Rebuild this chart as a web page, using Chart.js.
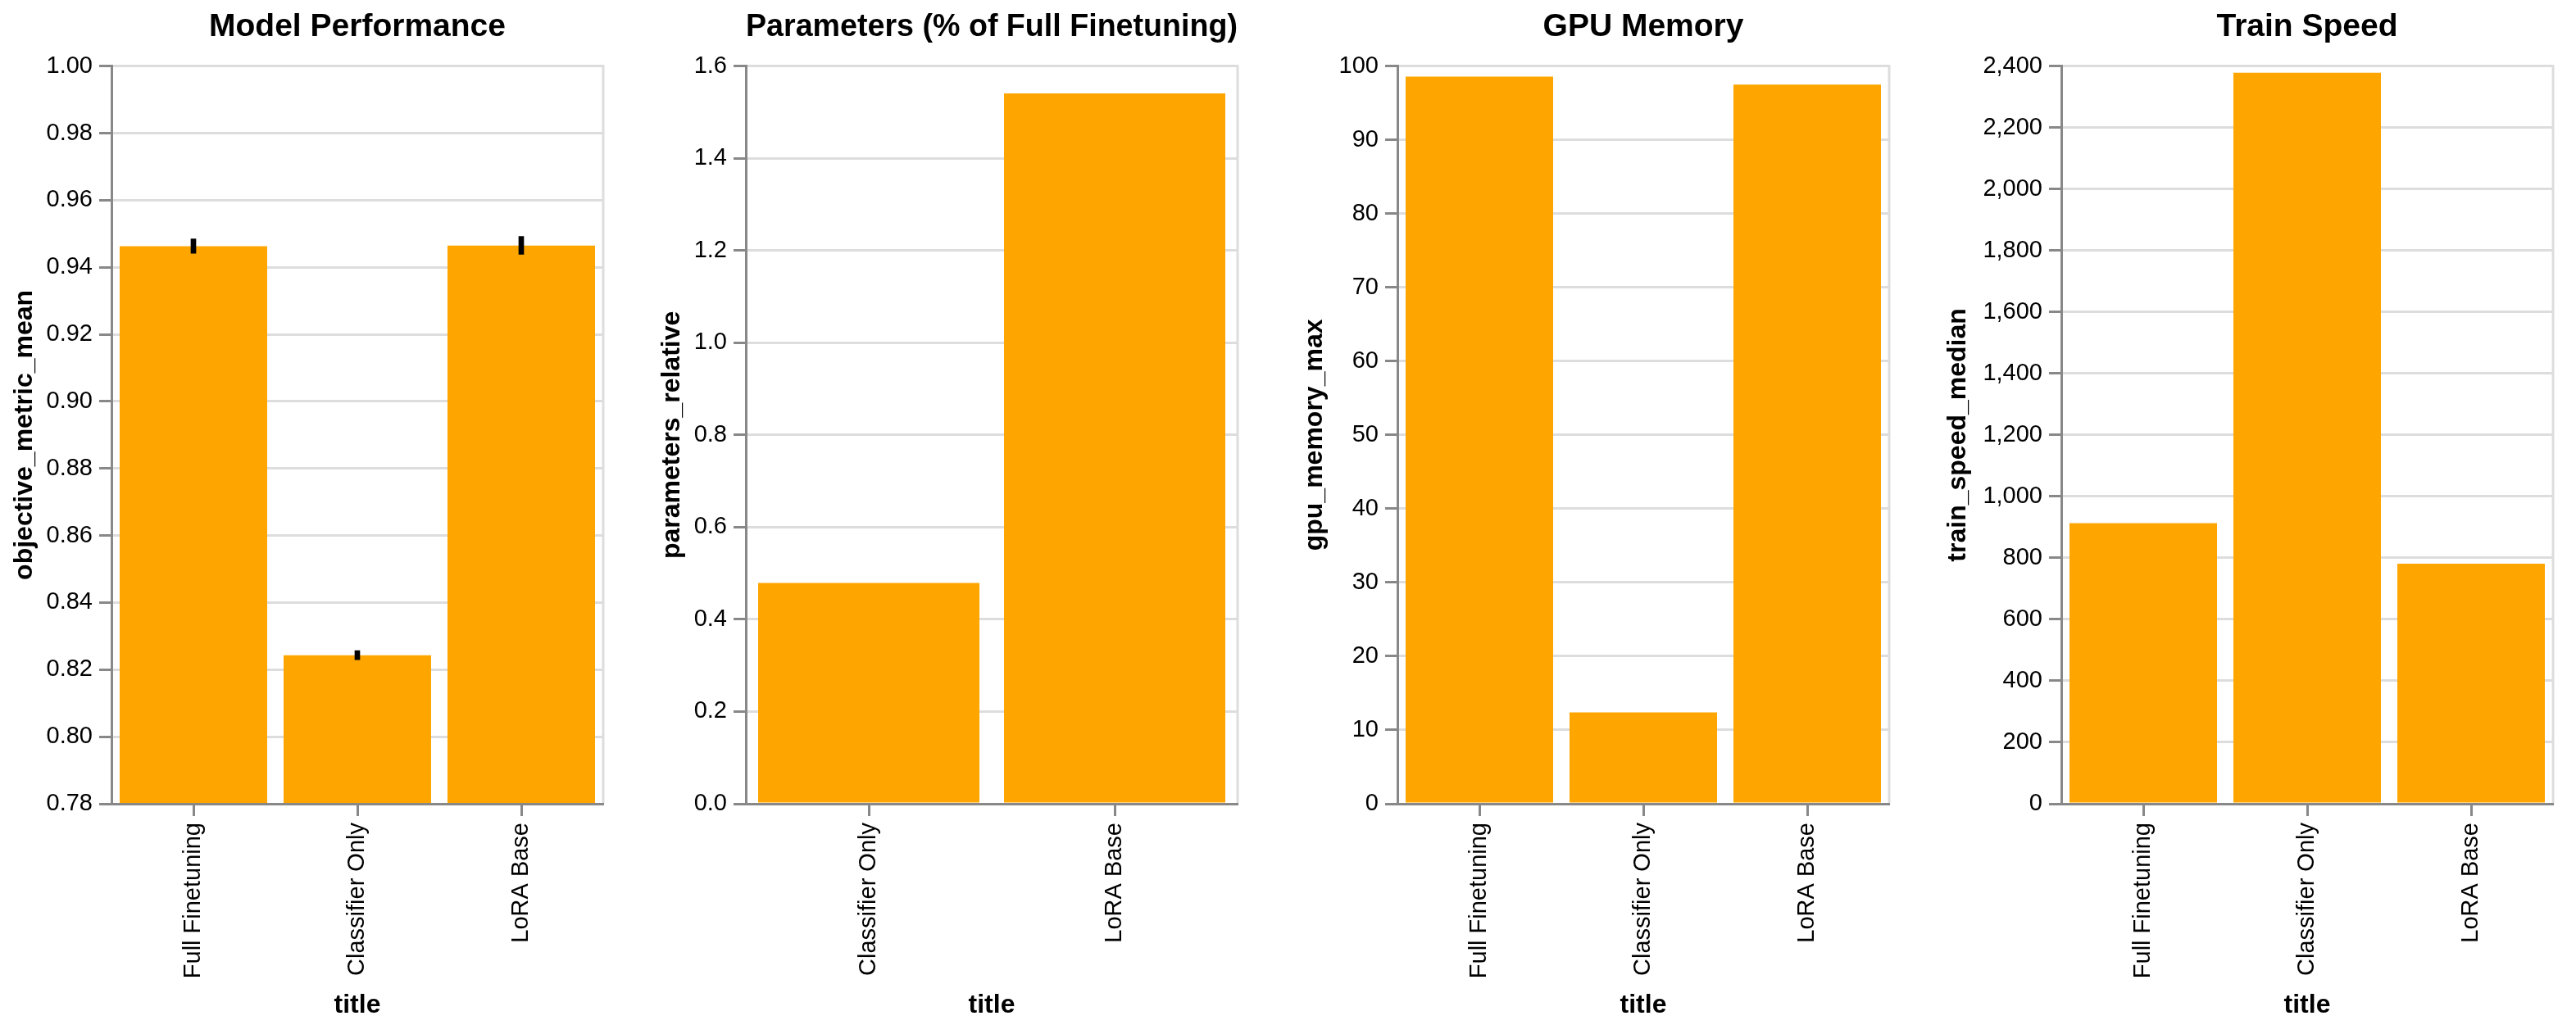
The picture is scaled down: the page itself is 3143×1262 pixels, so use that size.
<!DOCTYPE html>
<html>
<head>
<meta charset="utf-8">
<script src="https://cdn.jsdelivr.net/npm/chart.js@4.4.0/dist/chart.umd.min.js"></script>
<style>
  html, body { margin: 0; padding: 0; background: #fff; }
  #wrap { position: relative; width: 3143px; height: 1262px; overflow: hidden; }
  canvas { position: absolute; top: 0; }
</style>
</head>
<body>
<div id="wrap">
  <canvas id="perfChart"></canvas>
  <canvas id="paramChart"></canvas>
  <canvas id="gpuChart"></canvas>
  <canvas id="speedChart"></canvas>
</div>
<script>
        // --- DATA ---
        const methodLabels = ['Full Finetuning', 'Classifier Only', 'LoRA Base'];
        const paramLabels = ['Classifier Only', 'LoRA Base'];

        const perfMean = [0.9463, 0.8243, 0.9465];
        const perfLow = [0.9442, 0.8230, 0.9439];
        const perfHigh = [0.9485, 0.8257, 0.9492];
        const paramValues = [0.479, 1.541];
        const gpuValues = [98.6, 12.4, 97.5];
        const speedValues = [913, 2379, 781];

        const perfTicks = [0.78, 0.80, 0.82, 0.84, 0.86, 0.88, 0.90, 0.92, 0.94, 0.96, 0.98, 1.00];
        const paramTicks = [0, 0.2, 0.4, 0.6, 0.8, 1.0, 1.2, 1.4, 1.6];
        const gpuTicks = [0, 10, 20, 30, 40, 50, 60, 70, 80, 90, 100];
        const speedTicks = [0, 200, 400, 600, 800, 1000, 1200, 1400, 1600, 1800, 2000, 2200, 2400];

        // --- LAYOUT (pixel boxes of each panel) ---
        const CANVAS_H = 1262;
        const PLOT_BOTTOM = 981;
        const perfBox = { left: 0, plotLeft: 136, plotRight: 736, titleMid: 30 };
        const paramBox = { left: 780, plotLeft: 910, plotRight: 1510, titleMid: 820 };
        const gpuBox = { left: 1570, plotLeft: 1705, plotRight: 2305, titleMid: 1604.5 };
        const speedBox = { left: 2360, plotLeft: 2515, plotRight: 3115, titleMid: 2389.5 };

        const barColor = '#ffa500';
        const font = '"Liberation Sans", Arial, Helvetica, sans-serif';

        Chart.defaults.font.family = font;
        Chart.defaults.color = '#000';

        // right-hand frame line of the plot area
        const viewFrame = {
            id: 'viewFrame',
            beforeDatasetsDraw(chart) {
                const { ctx, chartArea: a } = chart;
                ctx.save();
                ctx.strokeStyle = '#ddd';
                ctx.lineWidth = 3;
                ctx.beginPath();
                ctx.moveTo(a.right, a.top - 1.5);
                ctx.lineTo(a.right, a.bottom);
                ctx.stroke();
                ctx.restore();
            }
        };

        function buildChart(canvasId, box, chartTitle, axisTitle, labels, datasets, ticks, fmt) {
            const canvas = document.getElementById(canvasId);
            const width = box.plotRight + 20 - box.left;
            canvas.width = width;
            canvas.height = CANVAS_H;
            canvas.style.left = box.left + 'px';
            canvas.style.width = width + 'px';
            canvas.style.height = CANVAS_H + 'px';

            return new Chart(canvas, {
                type: 'bar',
                data: { labels, datasets },
                options: {
                    responsive: false,
                    animation: false,
                    layout: { padding: { left: 0, right: 20, top: 0, bottom: 0 } },
                    plugins: {
                        legend: { display: false },
                        tooltip: { enabled: false },
                        title: {
                            display: true, text: chartTitle, fullSize: false, color: '#000',
                            font: { size: 39, weight: 'bold' }, padding: { top: 10, bottom: 24 }
                        }
                    },
                    scales: {
                        x: {
                            offset: true,
                            grid: { offset: false, drawOnChartArea: false, tickLength: 15, tickColor: '#888', tickWidth: 3 },
                            border: { color: '#888', width: 3, z: 1 },
                            ticks: { color: '#000', font: { size: 29 }, minRotation: 90, maxRotation: 90, autoSkip: false, padding: 8 },
                            title: { display: true, text: 'title', color: '#000', font: { size: 32, weight: 'bold' }, padding: { top: 0, bottom: 16 } },
                            afterFit: (s) => { s.height = CANVAS_H - PLOT_BOTTOM; }
                        },
                        y: {
                            min: ticks[0],
                            max: ticks[ticks.length - 1],
                            grid: { color: '#ddd', lineWidth: 3, tickLength: 15, tickColor: '#888', tickWidth: 3 },
                            border: { color: '#888', width: 3 },
                            ticks: { color: '#000', font: { size: 29 }, padding: 8, autoSkip: false, callback: fmt },
                            afterBuildTicks: (s) => { s.ticks = ticks.map(v => ({ value: v })); },
                            title: {
                                display: true, text: axisTitle, color: '#000', font: { size: 32, weight: 'bold' },
                                padding: { top: box.titleMid - box.left - 19.2, bottom: 0 }
                            },
                            afterFit: (s) => { s.width = box.plotLeft - box.left; }
                        }
                    }
                },
                plugins: [viewFrame]
            });
        }

        const bars = (values) => ({
            data: values, backgroundColor: barColor, categoryPercentage: 0.9, barPercentage: 1,
            grouped: false, order: 1
        });

        // --- CHARTS ---
        buildChart('perfChart', perfBox, 'Model Performance', 'objective_metric_mean', methodLabels, [
            {
                data: perfLow.map((lo, i) => [lo, perfHigh[i]]), backgroundColor: '#000',
                barThickness: 6, grouped: false, order: 0
            },
            bars(perfMean)
        ], perfTicks, (v) => v.toFixed(2));

        buildChart('paramChart', paramBox, 'Parameters (% of Full Finetuning)', 'parameters_relative', paramLabels,
            [bars(paramValues)], paramTicks, (v) => v.toFixed(1));

        buildChart('gpuChart', gpuBox, 'GPU Memory', 'gpu_memory_max', methodLabels,
            [bars(gpuValues)], gpuTicks, (v) => String(v));

        buildChart('speedChart', speedBox, 'Train Speed', 'train_speed_median', methodLabels,
            [bars(speedValues)], speedTicks, (v) => v.toLocaleString('en-US'));
</script>
</body>
</html>
